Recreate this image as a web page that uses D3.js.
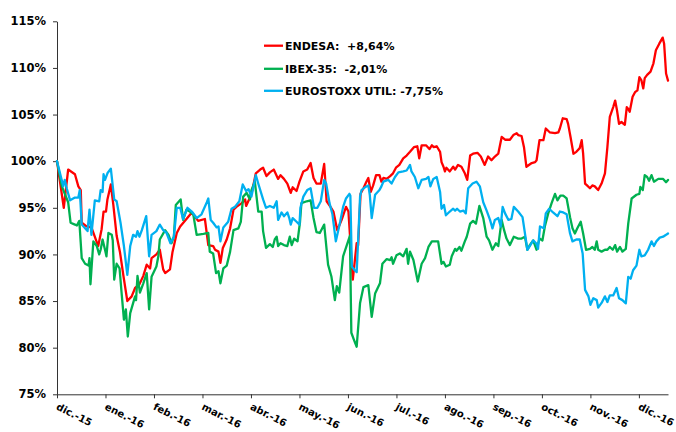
<!DOCTYPE html>
<html>
<head>
<meta charset="utf-8">
<script src="https://cdn.jsdelivr.net/npm/d3@7"></script>
<style>
  html, body { margin: 0; padding: 0; background: #fff; }
  svg { display: block; }
  text { font-family: "DejaVu Sans", Verdana, sans-serif; font-weight: bold; fill: #000; }
</style>
</head>
<body>
<svg id="chart" width="676" height="432"></svg>
<script>
// ---- DATA (t = months since dic.-15, v = % of start value) ----
const monthLabels = ["dic.-15","ene.-16","feb.-16","mar.-16","abr.-16","may.-16","jun.-16","jul.-16","ago.-16","sep.-16","oct.-16","nov.-16","dic.-16"];
const yTicks = [75, 80, 85, 90, 95, 100, 105, 110, 115];
const seriesNames = ["ENDESA:  +8,64%", "IBEX-35:  -2,01%", "EUROSTOXX UTIL: -7,75%"];
const seriesColors = ["#FF0000", "#00B050", "#00B0F0"];

const endesa = [
[0.00,100],[0.14,95.0],[0.23,99.1],[0.37,98.6],[0.44,97.3],[0.49,96.9],[0.51,93.4],[0.61,93.0],[0.71,92.9],[0.85,90.9],
[0.92,92.7],[0.96,94.6],[1.01,94.6],[1.04,95.9],[1.11,97.5],[1.16,95.4],[1.23,92.0],[1.30,90.2],[1.37,87.7],[1.45,85.0],
[1.54,85.5],[1.61,86.4],[1.70,86.8],[1.78,87.7],[1.85,88.9],[1.92,88.5],[1.95,89.6],[2.05,90.0],[2.12,90.5],[2.19,88.4],
[2.23,88.0],[2.33,88.4],[2.38,90.2],[2.47,92.3],[2.54,93.0],[2.67,93.8],[2.78,94.5],[2.91,93.6],[3.05,93.8],[3.12,91.0],
[3.22,90.9],[3.26,90.5],[3.33,90.3],[3.37,89.1],[3.42,90.7],[3.50,91.6],[3.57,92.8],[3.64,94.8],[3.70,95.1],[3.81,95.5],
[3.88,95.9],[3.90,95.2],[3.97,96.0],[4.03,96.9],[4.10,98.7],[4.19,99.1],[4.25,99.3],[4.32,98.4],[4.39,98.8],[4.47,99.1],
[4.56,98.1],[4.61,98.5],[4.68,98.1],[4.75,97.6],[4.82,96.6],[4.86,97.2],[4.94,96.8],[5.00,97.8],[5.08,98.9],[5.16,99.1],
[5.23,99.8],[5.29,98.2],[5.35,97.6],[5.44,97.6],[5.51,99.7],[5.56,95.7],[5.64,95.1],[5.70,94.6],[5.78,92.6],[5.87,93.7],
[5.96,95.1],[6.01,94.6],[6.10,87.3],[6.18,91.2],[6.21,91.0],[6.26,96.5],[6.32,97.1],[6.38,97.8],[6.42,98.2],[6.47,96.7],
[6.52,97.4],[6.58,98.5],[6.65,98.5],[6.69,97.8],[6.73,98.2],[6.80,98.1],[6.87,98.4],[6.93,98.7],[6.99,99.3],[7.06,99.6],
[7.14,100.3],[7.21,100.6],[7.28,101.0],[7.36,101.5],[7.43,101.6],[7.47,100.3],[7.52,101.7],[7.61,101.7],[7.68,101.3],[7.73,101.7],
[7.77,101.5],[7.83,101.6],[7.90,101.0],[7.93,99.9],[7.97,99.4],[8.00,98.9],[8.03,99.3],[8.10,98.9],[8.17,99.4],[8.21,99.1],
[8.27,99.6],[8.34,99.4],[8.41,98.7],[8.46,98.0],[8.52,100.6],[8.58,100.8],[8.67,100.9],[8.74,100.5],[8.82,99.6],[8.89,100.5],
[8.96,100.1],[9.03,100.5],[9.10,100.8],[9.17,102.6],[9.24,102.3],[9.34,102.3],[9.41,102.8],[9.48,103.0],[9.51,102.8],[9.58,102.7],
[9.63,101.5],[9.68,99.4],[9.79,99.8],[9.86,99.9],[9.89,100.1],[9.95,102.25],[10.03,102.25],[10.08,103.5],[10.16,103.1],[10.27,103.0],
[10.34,103.1],[10.37,103.5],[10.43,104.6],[10.51,104.5],[10.54,104.0],[10.59,102.6],[10.65,100.8],[10.71,101.0],[10.78,101.4],[10.82,102.25],
[10.85,100.8],[10.89,97.6],[10.93,97.4],[10.99,97.1],[11.04,97.4],[11.09,97.3],[11.16,96.9],[11.23,97.6],[11.30,98.7],[11.35,101.5],
[11.40,104.75],[11.47,105.8],[11.51,106.5],[11.55,105.4],[11.59,104.0],[11.64,104.2],[11.71,103.9],[11.75,105.8],[11.78,105.6],[11.81,105.3],
[11.87,106.9],[11.92,107.4],[11.97,107.6],[12.01,109.0],[12.05,108.7],[12.09,107.8],[12.12,108.9],[12.17,109.25],[12.24,109.6],[12.30,110.5],
[12.35,111.9],[12.42,112.6],[12.49,113.25],[12.52,112.6],[12.56,109.4],[12.60,108.64]
];

const ibex = [
[0.00,100],[0.10,97.3],[0.23,95.6],[0.28,93.4],[0.37,93.2],[0.41,93.1],[0.46,93.6],[0.51,89.6],[0.58,89.0],[0.65,88.8],
[0.67,89.6],[0.69,86.8],[0.75,91.4],[0.82,90.9],[0.87,90.0],[0.90,90.5],[0.94,91.6],[0.99,90.5],[1.02,89.8],[1.06,92.3],
[1.13,92.1],[1.15,91.5],[1.18,87.3],[1.23,89.0],[1.29,88.5],[1.33,86.0],[1.38,83.0],[1.42,84.1],[1.46,81.2],[1.51,83.7],
[1.61,85.5],[1.63,85.1],[1.66,87.7],[1.71,85.9],[1.78,86.9],[1.85,88.0],[1.90,84.1],[1.95,87.6],[2.05,88.7],[2.09,89.8],
[2.12,91.6],[2.23,92.6],[2.30,92.1],[2.36,91.2],[2.41,91.9],[2.45,95.3],[2.55,95.9],[2.60,93.7],[2.67,94.8],[2.74,94.6],
[2.81,94.3],[2.88,92.1],[3.02,92.2],[3.12,92.3],[3.15,90.3],[3.22,90.1],[3.28,88.0],[3.33,88.2],[3.37,86.9],[3.43,88.5],
[3.50,88.8],[3.57,90.3],[3.64,92.6],[3.74,92.8],[3.79,93.5],[3.84,96.2],[3.91,96.6],[3.98,95.9],[4.01,96.9],[4.08,97.8],
[4.15,94.6],[4.22,94.6],[4.25,92.5],[4.31,90.7],[4.39,91.1],[4.45,90.8],[4.49,91.6],[4.53,91.9],[4.56,90.9],[4.61,91.2],
[4.68,91.0],[4.75,90.9],[4.80,91.9],[4.84,91.0],[4.89,91.7],[4.96,91.4],[5.01,93.4],[5.04,95.5],[5.15,95.7],[5.23,95.8],
[5.29,93.9],[5.35,92.4],[5.42,92.3],[5.51,93.2],[5.59,88.9],[5.66,87.6],[5.73,85.1],[5.77,86.6],[5.82,85.9],[5.90,89.8],
[5.97,90.9],[6.04,92.0],[6.07,81.6],[6.12,80.9],[6.18,80.1],[6.25,84.8],[6.32,86.5],[6.42,86.7],[6.49,83.3],[6.56,85.8],
[6.66,86.9],[6.71,89.0],[6.80,89.5],[6.87,89.4],[6.90,89.7],[6.93,89.0],[7.00,89.9],[7.07,90.1],[7.14,89.8],[7.21,90.6],
[7.24,89.0],[7.28,90.3],[7.35,89.4],[7.44,87.1],[7.52,89.0],[7.59,89.6],[7.66,90.8],[7.73,91.4],[7.86,91.4],[7.93,89.0],
[7.97,89.2],[8.02,88.7],[8.10,88.9],[8.14,89.8],[8.21,90.6],[8.24,90.4],[8.30,90.8],[8.34,90.4],[8.41,91.4],[8.45,91.9],
[8.52,93.3],[8.58,93.6],[8.64,93.3],[8.71,95.2],[8.79,93.9],[8.86,91.9],[8.91,91.5],[8.98,90.5],[9.05,91.2],[9.10,90.9],
[9.17,93.7],[9.22,92.6],[9.27,91.7],[9.34,91.0],[9.42,91.9],[9.51,91.7],[9.58,91.7],[9.65,91.9],[9.70,90.5],[9.75,91.0],
[9.82,91.5],[9.89,90.5],[9.95,91.7],[10.01,91.5],[10.06,93.0],[10.13,94.4],[10.20,95.5],[10.27,96.5],[10.32,95.8],[10.38,96.3],
[10.44,96.3],[10.51,96.0],[10.58,94.0],[10.63,92.8],[10.68,92.25],[10.73,92.8],[10.80,93.5],[10.85,92.25],[10.91,90.5],[10.99,90.6],
[11.04,90.8],[11.09,90.5],[11.13,91.4],[11.16,90.5],[11.23,90.3],[11.30,90.5],[11.35,90.5],[11.40,90.8],[11.46,90.5],[11.51,91.0],
[11.55,90.3],[11.61,90.8],[11.66,90.3],[11.73,90.6],[11.78,93.3],[11.85,96.0],[11.95,96.4],[12.01,96.5],[12.03,97.25],[12.08,96.9],
[12.12,98.5],[12.17,98.3],[12.21,97.9],[12.26,98.5],[12.31,97.8],[12.40,98.1],[12.50,98.1],[12.56,97.75],[12.60,97.99]
];

const eurostoxx = [
[0.00,100],[0.13,97.3],[0.16,98.0],[0.20,97.1],[0.27,95.8],[0.37,96.1],[0.44,96.1],[0.47,96.9],[0.51,93.2],[0.58,92.8],
[0.63,92.5],[0.67,94.8],[0.71,92.1],[0.78,95.8],[0.87,95.7],[0.90,96.9],[0.94,96.7],[0.96,98.6],[0.99,98.0],[1.04,98.7],
[1.11,99.2],[1.18,95.9],[1.23,95.7],[1.31,93.4],[1.38,90.9],[1.45,87.8],[1.51,90.9],[1.57,92.1],[1.63,91.9],[1.66,92.5],
[1.70,91.9],[1.75,92.6],[1.84,94.1],[1.90,89.8],[1.95,92.1],[2.05,92.5],[2.12,93.2],[2.19,92.6],[2.26,92.3],[2.34,91.2],
[2.41,91.9],[2.47,95.0],[2.54,95.0],[2.60,93.8],[2.69,95.0],[2.78,94.6],[2.88,93.9],[2.98,94.3],[3.09,95.6],[3.12,96.0],
[3.17,93.7],[3.22,93.4],[3.29,92.9],[3.33,93.0],[3.37,91.4],[3.43,92.9],[3.53,93.5],[3.60,94.9],[3.67,95.1],[3.76,95.7],
[3.83,97.5],[3.90,96.8],[3.95,97.0],[4.01,96.2],[4.10,98.5],[4.15,97.6],[4.25,95.9],[4.31,95.0],[4.39,95.2],[4.47,95.0],
[4.53,95.7],[4.56,93.7],[4.63,94.5],[4.68,94.1],[4.75,94.5],[4.79,93.9],[4.82,93.2],[4.86,93.9],[4.94,93.5],[5.00,93.2],
[5.02,95.0],[5.08,96.2],[5.16,96.9],[5.23,97.1],[5.30,95.0],[5.37,95.0],[5.44,95.7],[5.51,98.0],[5.55,97.6],[5.62,95.5],
[5.68,94.3],[5.75,91.4],[5.84,93.5],[5.90,95.1],[5.96,96.0],[6.03,96.5],[6.05,96.3],[6.08,88.7],[6.14,88.3],[6.18,88.1],
[6.21,91.5],[6.25,96.2],[6.28,96.9],[6.35,97.2],[6.42,97.4],[6.45,96.4],[6.49,93.9],[6.56,96.4],[6.65,96.9],[6.69,97.3],
[6.73,97.8],[6.83,98.0],[6.90,97.6],[6.97,98.3],[7.04,98.8],[7.14,98.9],[7.21,99.0],[7.28,99.6],[7.31,98.9],[7.38,98.3],
[7.45,97.1],[7.52,98.0],[7.61,98.1],[7.66,98.3],[7.70,97.3],[7.76,98.1],[7.83,98.3],[7.90,96.7],[7.93,94.9],[7.98,95.3],
[8.02,94.2],[8.10,94.6],[8.17,94.9],[8.21,94.7],[8.25,94.9],[8.31,94.6],[8.38,94.7],[8.43,94.4],[8.48,97.1],[8.57,97.6],
[8.65,97.8],[8.72,97.3],[8.79,95.6],[8.86,94.7],[8.93,93.7],[8.98,92.8],[9.03,93.7],[9.10,93.9],[9.15,93.0],[9.19,95.1],
[9.24,94.4],[9.31,93.7],[9.37,93.8],[9.42,95.1],[9.51,94.6],[9.60,94.0],[9.65,92.25],[9.70,90.5],[9.75,90.9],[9.82,91.5],
[9.88,91.2],[9.92,90.6],[9.96,93.0],[10.04,92.8],[10.08,94.4],[10.15,94.9],[10.23,94.5],[10.32,94.1],[10.37,94.6],[10.44,94.5],
[10.51,94.3],[10.58,92.25],[10.63,91.4],[10.71,91.6],[10.78,91.6],[10.84,90.1],[10.89,86.2],[10.96,85.5],[11.00,84.6],[11.06,85.3],
[11.13,85.1],[11.16,84.3],[11.23,84.8],[11.30,85.5],[11.35,84.9],[11.40,85.6],[11.47,85.6],[11.54,86.4],[11.59,85.3],[11.66,85.1],
[11.73,84.75],[11.78,87.6],[11.83,87.4],[11.88,88.3],[11.95,88.8],[12.01,90.5],[12.05,89.8],[12.12,89.9],[12.19,90.5],[12.26,91.4],
[12.31,90.9],[12.36,91.4],[12.43,91.8],[12.50,91.9],[12.56,92.1],[12.60,92.25]
];

const seriesData = [endesa, ibex, eurostoxx];

// ---- CHART ----
const svg = d3.select("#chart");
const x = d3.scaleLinear().domain([0, 12.6]).range([57, 668]);
const y = d3.scaleLinear().domain([75, 115]).range([394.3, 21.3]);

// Y axis
const yAxis = svg.append("g")
  .attr("transform", "translate(57,0)")
  .call(d3.axisLeft(y).tickValues(yTicks).tickSizeInner(4).tickSizeOuter(0).tickPadding(7)
        .tickFormat(d => d + "%"));
yAxis.selectAll("text").style("font-size", "11.5px");

// X axis
const xAxis = svg.append("g")
  .attr("transform", "translate(0,394.3)")
  .call(d3.axisBottom(x).tickValues(d3.range(monthLabels.length)).tickSizeInner(4).tickSizeOuter(0)
        .tickFormat(i => monthLabels[i]));
xAxis.selectAll("text")
  .style("font-size", "10px")
  .attr("text-anchor", "start")
  .attr("x", 5).attr("y", 14).attr("dy", 0)
  .attr("transform", "rotate(27)");

svg.selectAll(".domain, .tick line").attr("stroke", "#333").attr("stroke-width", 1);

// Lines
const line = d3.line().x(d => x(d[0])).y(d => y(d[1]));
svg.append("g").selectAll("path")
  .data(seriesData)
  .join("path")
  .attr("d", line)
  .attr("fill", "none")
  .attr("stroke", (d, i) => seriesColors[i])
  .attr("stroke-width", 2.3)
  .attr("stroke-linejoin", "round")
  .attr("stroke-linecap", "round");

// Legend
const legendY = [45.7, 68.8, 90.8];
const lg = svg.append("g").selectAll("g")
  .data(seriesNames)
  .join("g")
  .attr("transform", (d, i) => `translate(264,${legendY[i]})`);
lg.append("line").attr("x1", 0).attr("x2", 19).attr("y1", 0).attr("y2", 0)
  .attr("stroke", (d, i) => seriesColors[i]).attr("stroke-width", 2.3);
lg.append("text").attr("x", 21).attr("y", 4.5)
  .style("font-size", "11px").style("white-space", "pre")
  .text(d => d);
</script>
</body>
</html>
